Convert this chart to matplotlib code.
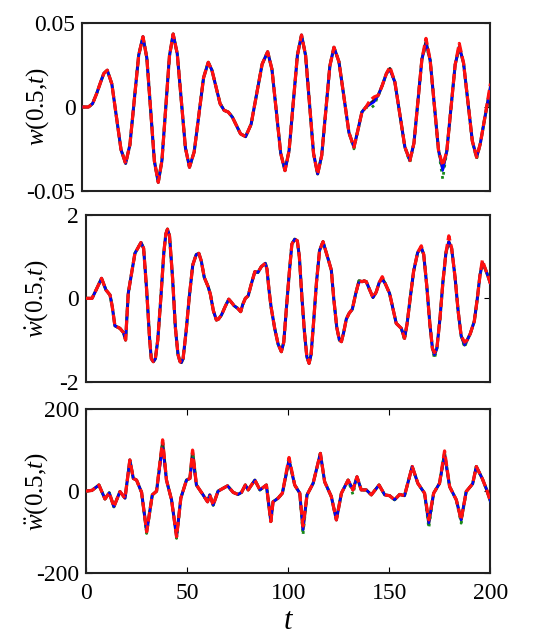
import matplotlib
matplotlib.use("Agg")
import numpy as np
import matplotlib.pyplot as plt

plt.rcParams['font.family'] = 'Liberation Serif'
plt.rcParams['mathtext.fontset'] = 'custom'
plt.rcParams['mathtext.rm'] = 'Liberation Serif'
plt.rcParams['mathtext.it'] = 'Liberation Serif:italic'

# ---- displacement w(0.5,t) -----------------------------------------------
t_w = [0, 3, 5, 7, 9, 10.5, 12.2, 14.45, 16.7, 18.95, 21.2, 23.3, 25.45, 27.6,
       29.7, 31.6, 33.45, 35.3, 37.2, 39.0, 40.85, 42.7, 44.5, 46.5, 48.5, 50.5,
       52.5, 54.8, 57.1, 59.4, 61.7, 63.5, 65.5, 67.5, 69.5, 71.5, 73.5, 75.5,
       77.5, 80, 82.7, 85.4, 88.1, 90.8, 92.9, 95.05, 97.2, 99.3, 101.3, 103.35,
       105.4, 107.4, 109.4, 111.35, 113.3, 115.3, 117.3, 119.3, 121.3, 123.3,
       125.75, 128.2, 130.65, 133.1, 135, 137, 139, 141, 143, 145, 147, 149,
       150.7, 153.15, 155.6, 158.05, 160.5, 162.5, 164.45, 166.4, 168.4, 170.45,
       172.5, 174.55, 176.6, 178.6, 180.65, 182.7, 184.7, 186.8, 188.95, 191.1,
       193.2, 195, 197, 200]
w_exact = [0, 0, 0.002, 0.008, 0.015, 0.020, 0.022, 0.0138, -0.0059, -0.0255,
           -0.0337, -0.0226, 0.0042, 0.0309, 0.042, 0.0293, -0.0015, -0.0323,
           -0.045, -0.032, -0.0007, 0.0306, 0.0436, 0.0319, 0.0038, -0.0243,
           -0.036, -0.0268, -0.0047, 0.0175, 0.0267, 0.022, 0.012, 0.002,
           -0.002, -0.003, -0.006, -0.011, -0.016, -0.0177, -0.0103, 0.0077,
           0.0256, 0.033, 0.0226, -0.0025, -0.0276, -0.038, -0.0261, 0.0025,
           0.0311, 0.043, 0.0308, 0.0015, -0.0278, -0.040, -0.0289, -0.0022,
           0.0246, 0.0357, 0.027, 0.0059, -0.0153, -0.024, -0.014, -0.003, 0.0,
           0.002, 0.004, 0.007, 0.013, 0.020, 0.023, 0.0149, -0.0045, -0.0239,
           -0.032, -0.0216, 0.0035, 0.0286, 0.039, 0.0279, 0.001, -0.0259,
           -0.037, -0.0263, -0.0005, 0.0253, 0.036, 0.0263, 0.003, -0.0203,
           -0.030, -0.022, -0.008, 0.012]
# where the approximate solutions visibly leave the exact one
w_blue = {141: 0.0015, 143: 0.003, 150.7: 0.022, 168.4: 0.038, 176.6: -0.038}
w_green = {141: -0.001, 143: 0.001, 133.1: -0.025, 160.5: -0.033,
           168.4: 0.037, 176.6: -0.043, 193.2: -0.031}
w_red = {141: 0.004, 143: 0.006, 150.7: 0.024, 168.4: 0.041, 176.6: -0.035,
         184.7: 0.038, 200: 0.014}

# ---- velocity ------------------------------------------------------------
t_v = [0, 3, 5, 7.7, 9.9, 11.9, 13, 14.3, 16.8, 18.5, 19.6, 20.9, 24.2, 27.2,
       28.5, 30, 31.5, 32.3, 33.3, 34.3, 35.5, 37, 38.5, 39.5, 40.3, 41.3, 42.8,
       44.2, 45.5, 46.5, 47.2, 48, 49.5, 51, 52.8, 54.5, 55.8, 57, 58.5, 60.4,
       61.5, 63, 64.5, 65.5, 67, 68.8, 70.6, 72, 73.3, 75, 76.5, 77.5, 78.8,
       80.2, 81.5, 83.5, 85, 86.7, 88.7, 89.5, 90.5, 91.5, 93.3, 95, 96.6, 97.8,
       99, 100.5, 101.8, 103.2, 104.5, 105.5, 106.8, 108, 109.2, 110.3, 111.3,
       112.5, 114, 115.5, 117.2, 118.5, 120, 121.3, 122.5, 124, 125.3, 126.3,
       127.5, 128.7, 130.1, 131.7, 133.3, 135, 136.6, 137.5, 138.6, 140.3,
       141.9, 143.5, 145, 146.5, 148, 150.1, 151.8, 153.4, 155.9, 157.5, 158.8,
       160.3, 162, 164, 165.8, 167, 168.5, 170, 171.3, 172.3, 173.5, 175, 176.5,
       178, 179.4, 180.8, 182.5, 184, 185.5, 187.2, 188.5, 190, 192, 193.5,
       194.8, 196, 197.5, 199, 200]
v_exact = [0, 0, 0.2, 0.48, 0.2, 0.08, -0.2, -0.66, -0.72, -0.82, -1.0, 0.12,
           1.08, 1.34, 1.2, 0.2, -1.0, -1.45, -1.52, -1.45, -1.0, 0.0, 1.1, 1.55,
           1.66, 1.5, 0.5, -0.7, -1.35, -1.52, -1.54, -1.45, -0.8, 0.0, 0.8, 1.05,
           1.08, 0.9, 0.5, 0.28, 0.1, -0.3, -0.52, -0.5, -0.4, -0.2, -0.02, -0.1,
           -0.18, -0.24, -0.32, -0.15, 0.0, 0.06, 0.3, 0.64, 0.62, 0.76, 0.84,
           0.7, 0.2, -0.2, -0.72, -1.1, -1.28, -1.05, -0.3, 0.6, 1.3, 1.42, 1.38,
           1.0, 0.0, -0.8, -1.4, -1.56, -1.35, -0.6, 0.4, 1.15, 1.36, 1.15, 0.9,
           0.68, 0.0, -0.7, -1.0, -1.04, -0.8, -0.5, -0.36, -0.26, 0.1, 0.42,
           0.4, 0.42, 0.4, 0.2, 0.02, 0.15, 0.38, 0.48, 0.35, 0.12, -0.25, -0.6,
           -0.72, -0.96, -0.6, 0.0, 0.65, 1.1, 1.22, 1.05, 0.3, -0.6, -1.2,
           -1.36, -1.2, -0.5, 0.4, 1.1, 1.36, 1.2, 0.5, -0.3, -0.9, -1.12, -1.0,
           -0.85, -0.55, 0.0, 0.55, 0.85, 0.7, 0.5, 0.35]
v_blue = {135: 0.38, 146.5: 0.44, 172.3: -1.36, 179.4: 1.36}
v_green = {157.5: -1.0, 172.3: -1.45, 179.4: 1.3, 187.2: -1.18}
v_red = {146.5: 0.52, 165.8: 1.26, 172.3: -1.30, 179.4: 1.5, 187.2: -1.05,
         196: 0.92}

# ---- acceleration --------------------------------------------------------
t_a = [0, 3, 6.4, 9.4, 11.5, 13.8, 16.8, 19.3, 21.7, 23.4, 25, 27.5, 30, 32.8,
       34.9, 37.9, 39.8, 42.3, 44.8, 46.9, 49.7, 51.4, 52.7, 54.6, 57.9, 60.1,
       61.2, 62.9, 65.3, 70, 72.8, 75.2, 76.9, 78.8, 80.2, 83.5, 86, 89.2, 91.4,
       92.5, 95, 97.1, 100.4, 103.2, 105.7, 107.3, 109.3, 112.3, 115.9, 118,
       121.3, 123.8, 126.3, 129.6, 132, 134, 136.1, 138.6, 141.1, 144.9, 147.7,
       150.1, 152.6, 155.1, 157.5, 161.3, 164.1, 167.4, 169.5, 171.9, 174.8,
       177.3, 179.8, 183.1, 185.5, 188, 191.2, 193, 196, 198, 200]
a_exact = [0, 2, 15, -19, -4, -38, -1, -17, 76, 31, 27, -3, -99, -9, 0, 120, 27,
           -21, -111, -17, 27, 31, 96, 15, -9, -26, -9, -34, 0, 13, -3, -8, -3,
           15, 3, 27, 3, 15, -74, -26, -17, -5, 76, 15, -5, -94, -9, 19, 92, 23,
           -13, -70, -5, 27, 3, 35, 3, 3, -9, 15, -9, -11, -21, -8, -11, 60, 19,
           -5, -78, -5, 19, 92, 11, -21, -70, -1, 18, 60, 30, 5, -25]
a_blue = {37.9: 105, 52.7: 80, 107.3: -94, 177.3: 85}
a_green = {30: -103, 44.8: -115, 107.3: -107, 169.5: -90, 185.5: -78,
           132: -8}
a_red = {37.9: 125, 52.7: 100, 107.3: -85, 169.5: -70, 177.3: 98,
         100.4: 82}


def with_changes(t, base, changes):
    vals = list(base)
    for tt, vv in changes.items():
        vals[t.index(tt)] = vv
    return vals


fig = plt.figure(figsize=(5.49, 6.37), dpi=100)
ax1 = fig.add_axes([0.150, 0.7006, 0.7434, 0.2628])
ax2 = fig.add_axes([0.1566, 0.4008, 0.7368, 0.2617])
ax3 = fig.add_axes([0.1566, 0.1000, 0.7368, 0.2579])

panels = [
    (ax1, t_w, w_exact, w_blue, w_green, w_red, (-0.05, 0.05),
     [-0.05, 0, 0.05], ['-0.05', '0', '0.05'], r'$w(0.5{,}t)$', -0.077),
    (ax2, t_v, v_exact, v_blue, v_green, v_red, (-2, 2),
     [-2, 0, 2], ['-2', '0', '2'], r'$\dot{w}(0.5{,}t)$', -0.089),
    (ax3, t_a, a_exact, a_blue, a_green, a_red, (-200, 200),
     [-200, 0, 200], ['-200', '0', '200'], r'$\ddot{w}(0.5{,}t)$', -0.089),
]

for ax, t, ex, cb, cg, cr, ylim, yt, ytl, ylab, lx in panels:
    ax.plot(t, ex, color='#222222', lw=2.2, zorder=2)
    ax.plot(t, with_changes(t, ex, cg), color='#1a8a1a', lw=2.0,
            linestyle=':', zorder=3)
    ax.plot(t, with_changes(t, ex, cb), color='#0000ff', lw=1.6, zorder=4)
    ax.plot(t, with_changes(t, ex, cr), color='#ff1010', lw=2.3,
            linestyle=(0, (3, 1.2)), zorder=5)
    ax.set_xlim(0, 200)
    ax.set_ylim(*ylim)
    ax.set_yticks(yt)
    ax.set_yticklabels(ytl)
    ax.set_ylabel(ylab, fontsize=18)
    ax.yaxis.set_label_coords(lx, 0.5)
    ax.tick_params(axis='y', direction='in', right=True, length=4,
                   labelsize=17, pad=5)
    for s in ax.spines.values():
        s.set_linewidth(1.5)
        s.set_color('#222222')

for ax in (ax1, ax2):
    ax.set_xticks([])

ax3.set_xticks([0, 50, 100, 150, 200])
ax3.tick_params(axis='x', direction='in', top=True, length=4,
                labelsize=17, pad=7)
ax3.set_xlabel(r'$t$', fontsize=22, labelpad=2)

plt.savefig("out.png", dpi=100)
plt.close()
